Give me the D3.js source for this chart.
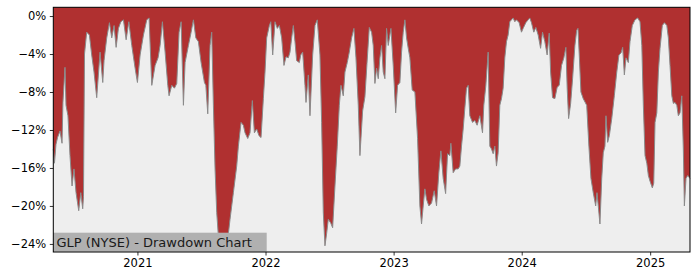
<!DOCTYPE html>
<html>
<head>
<meta charset="utf-8">
<script src="https://cdn.jsdelivr.net/npm/d3@7"></script>
<style>
  html, body { margin: 0; padding: 0; background: #ffffff; }
  svg { display: block; font-family: "DejaVu Sans", sans-serif; }
</style>
</head>
<body>
<svg id="chart" width="700" height="280"></svg>
<script>
// Decimal-year timestamps of the points
const times = [
  2020.345,2020.354,2020.366,2020.378,2020.397,2020.413,2020.420,2020.436,2020.444,2020.459,
  2020.475,2020.491,2020.506,2020.522,2020.543,2020.559,2020.574,2020.580,2020.588,2020.605,
  2020.626,2020.644,2020.662,2020.683,2020.709,2020.730,2020.740,2020.761,2020.782,2020.800,
  2020.818,2020.834,2020.852,2020.871,2020.891,2020.912,2020.933,2020.956,2020.982,2021.000,
  2021.021,2021.047,2021.073,2021.091,2021.112,2021.138,2021.161,2021.177,2021.195,2021.216,
  2021.237,2021.247,2021.268,2021.289,2021.307,2021.325,2021.341,2021.359,2021.372,2021.398,
  2021.419,2021.437,2021.456,2021.476,2021.497,2021.523,2021.534,2021.549,2021.567,2021.580,
  2021.593,2021.606,2021.619,2021.632,2021.658,2021.684,2021.705,2021.723,2021.749,2021.775,
  2021.788,2021.809,2021.827,2021.840,2021.861,2021.879,2021.897,2021.913,2021.931,2021.949,
  2021.965,2021.983,2021.996,2022.009,2022.030,2022.041,2022.056,2022.074,2022.092,2022.108,
  2022.126,2022.144,2022.160,2022.178,2022.191,2022.204,2022.217,2022.230,2022.243,2022.264,
  2022.275,2022.290,2022.308,2022.316,2022.334,2022.347,2022.368,2022.386,2022.404,2022.425,
  2022.438,2022.451,2022.464,2022.477,2022.490,2022.509,2022.524,2022.542,2022.560,2022.576,
  2022.589,2022.607,2022.620,2022.638,2022.654,2022.672,2022.690,2022.706,2022.724,2022.737,
  2022.758,2022.776,2022.792,2022.810,2022.828,2022.841,2022.854,2022.867,2022.880,2022.893,
  2022.906,2022.919,2022.932,2022.945,2022.958,2022.979,2022.997,2023.016,2023.031,2023.049,
  2023.062,2023.075,2023.088,2023.101,2023.114,2023.127,2023.145,2023.166,2023.187,2023.205,
  2023.218,2023.231,2023.244,2023.257,2023.275,2023.296,2023.317,2023.335,2023.353,2023.369,
  2023.387,2023.406,2023.421,2023.439,2023.447,2023.465,2023.484,2023.504,2023.517,2023.530,
  2023.543,2023.556,2023.569,2023.582,2023.595,2023.616,2023.634,2023.652,2023.673,2023.694,
  2023.704,2023.720,2023.738,2023.751,2023.764,2023.777,2023.790,2023.803,2023.816,2023.829,
  2023.842,2023.855,2023.868,2023.881,2023.894,2023.907,2023.920,2023.933,2023.946,2023.959,
  2023.980,2023.998,2024.011,2024.032,2024.050,2024.063,2024.076,2024.094,2024.110,2024.128,
  2024.147,2024.162,2024.180,2024.198,2024.214,2024.225,2024.240,2024.258,2024.276,2024.292,
  2024.310,2024.328,2024.344,2024.354,2024.365,2024.381,2024.396,2024.414,2024.428,2024.438,
  2024.448,2024.461,2024.479,2024.506,2024.523,2024.539,2024.557,2024.576,2024.586,2024.596,
  2024.609,2024.623,2024.635,2024.648,2024.656,2024.669,2024.682,2024.701,2024.721,2024.740,
  2024.757,2024.773,2024.786,2024.799,2024.812,2024.830,2024.843,2024.861,2024.882,2024.903,
  2024.921,2024.935,2024.947,2024.960,2024.974,2024.986,2024.999,2025.017,2025.028,2025.038,
  2025.052,2025.064,2025.077,2025.095,2025.111,2025.130,2025.142,2025.155,2025.169,2025.181,
  2025.194,2025.208,2025.220,2025.233,2025.247,2025.259,2025.267,2025.280,2025.293,2025.311
];
// Drawdown in percent at each timestamp
const drawdown = [
  -14.0,-15.5,-13.5,-12.8,-12.1,-13.4,-9.1,-5.4,-9.4,-10.5,
  -14.7,-17.9,-16.1,-18.6,-20.5,-18.6,-20.3,-19.0,-4.0,-1.7,
  -2.0,-4.1,-5.9,-8.6,-3.8,-7.0,-4.7,-2.3,-0.7,-2.3,
  -1.0,-3.3,-1.3,-0.6,-0.4,-2.5,-0.6,-3.1,-5.5,-7.0,
  -4.1,-2.0,-0.4,-0.2,-7.3,-5.2,-4.4,-3.1,-0.6,-3.8,
  -7.3,-8.4,-7.3,-7.6,-7.1,-1.7,-0.6,-9.4,-4.9,-3.1,
  -1.7,-0.4,-2.3,-2.7,-4.9,-7.0,-7.3,-10.3,-3.1,-1.7,
  -9.4,-16.1,-20.7,-23.2,-23.5,-23.2,-23.5,-21.4,-18.6,-15.8,
  -13.7,-11.2,-11.5,-12.3,-12.9,-12.3,-8.9,-12.3,-11.9,-12.6,
  -12.8,-8.7,-5.9,-2.3,-1.0,-0.6,-4.1,-0.6,-1.3,-1.0,
  -2.3,-5.2,-4.3,-4.4,-3.8,-2.3,-1.0,-2.7,-4.7,-4.9,
  -4.1,-3.8,-7.3,-9.1,-6.2,-10.5,-4.1,-1.0,-0.4,-4.1,
  -11.2,-20.7,-24.2,-22.9,-21.4,-21.8,-22.3,-17.9,-13.7,-9.4,
  -7.3,-8.4,-5.9,-4.9,-3.8,-2.3,-1.3,-4.4,-9.4,-14.7,
  -10.0,-8.5,-5.0,-1.2,-1.7,-3.1,-7.1,-5.5,-6.6,-4.4,
  -3.1,-5.9,-6.6,-1.3,-3.1,-1.3,-5.2,-10.2,-7.3,-7.0,
  -3.8,-1.7,-0.4,-2.3,-3.4,-4.4,-7.8,-8.0,-12.9,-20.0,
  -21.9,-20.0,-18.2,-19.3,-20.0,-19.7,-18.4,-20.0,-16.5,-14.2,
  -17.1,-18.7,-14.5,-14.7,-13.4,-16.5,-16.1,-16.1,-15.8,-13.7,
  -11.9,-9.7,-7.6,-7.3,-10.5,-11.2,-11.0,-11.5,-10.5,-12.3,
  -9.4,-7.3,-3.8,-13.7,-14.0,-14.5,-13.7,-15.8,-14.4,-9.4,
  -8.7,-7.6,-4.4,-2.7,-2.0,-0.6,-0.4,-0.2,-0.6,-0.4,
  -0.7,-1.7,-1.3,-0.7,-0.4,-0.2,-0.7,-1.7,-1.2,-2.0,
  -3.4,-1.7,-2.7,-4.1,-1.8,-5.9,-8.6,-8.7,-7.5,-7.3,
  -5.2,-4.4,-3.3,-7.6,-10.8,-9.2,-6.6,-3.1,-1.5,-1.3,
  -4.1,-8.0,-8.7,-9.4,-13.7,-17.1,-18.6,-20.0,-18.6,-20.0,
  -21.9,-17.1,-14.4,-13.7,-10.5,-13.3,-12.6,-10.8,-8.4,-5.9,
  -4.1,-3.9,-3.3,-6.2,-4.4,-4.9,-2.7,-1.0,-0.4,-0.2,
  -0.6,-3.1,-9.4,-14.7,-15.5,-16.8,-17.4,-18.1,-17.6,-11.2,
  -10.2,-5.9,-3.4,-1.0,-0.7,-1.0,-2.3,-5.2,-8.4,-9.2,
  -9.1,-9.4,-10.5,-10.2,-8.4,-14.0,-20.0,-17.1,-16.8,-17.1
];
const yTicks = [0, -4, -8, -12, -16, -20, -24];
const yDomain = [-24.85, 0.92];
const title = "GLP (NYSE) - Drawdown Chart";

function toDate(t) {
  const yr = Math.floor(t + 1e-9);
  const s = new Date(yr, 0, 1), e = new Date(yr + 1, 0, 1);
  return new Date(+s + (t - yr) * (e - s));
}
const data = times.map((t, i) => ({ date: toDate(t), v: drawdown[i] }));

const svg = d3.select("#chart");
const L = 53.3, R = 690, T = 7.3, B = 252;

const x = d3.scaleTime().domain(d3.extent(data, d => d.date)).range([L, R]);
const y = d3.scaleLinear().domain(yDomain).range([B, T]);

svg.append("rect").attr("x", L).attr("y", T).attr("width", R - L).attr("height", B - T)
  .attr("fill", "#eeeeee");

svg.append("path").datum(data)
  .attr("fill", "#b03030")
  .attr("d", d3.area().x(d => x(d.date)).y0(T).y1(d => y(d.v)));

svg.append("path").datum(data)
  .attr("fill", "none").attr("stroke", "#8a8a8a").attr("stroke-width", 1)
  .attr("d", d3.line().x(d => x(d.date)).y(d => y(d.v)));

// label box
const lab = svg.append("g");
lab.append("rect").attr("x", L).attr("y", 232.7).attr("width", 213.4).attr("height", 19)
  .attr("fill", "#b0b0b0");
lab.append("text").attr("x", 56.5).attr("y", 247.3).attr("font-size", "13px")
  .attr("fill", "#1a1a1a").text(title);

// axes
const fmtY = d => d3.format("d")(d) + "%";
const yAxis = svg.append("g").attr("transform", `translate(${L},0)`)
  .call(d3.axisLeft(y).tickValues(yTicks).tickFormat(fmtY).tickSize(3.5).tickPadding(3.5));
const xAxis = svg.append("g").attr("transform", `translate(0,${B})`)
  .call(d3.axisBottom(x).ticks(d3.timeYear.every(1)).tickFormat(d3.timeFormat("%Y")).tickSize(3.5).tickPadding(3.5));
[yAxis, xAxis].forEach(g => {
  g.select(".domain").remove();
  g.selectAll("text").attr("font-size", "11.5px").attr("font-family", "DejaVu Sans").attr("fill", "#000");
  g.selectAll("line").attr("stroke", "#000").attr("stroke-width", 0.8);
});

svg.append("rect").attr("x", L).attr("y", T).attr("width", R - L).attr("height", B - T)
  .attr("fill", "none").attr("stroke", "#000").attr("stroke-width", 1);
</script>
</body>
</html>
